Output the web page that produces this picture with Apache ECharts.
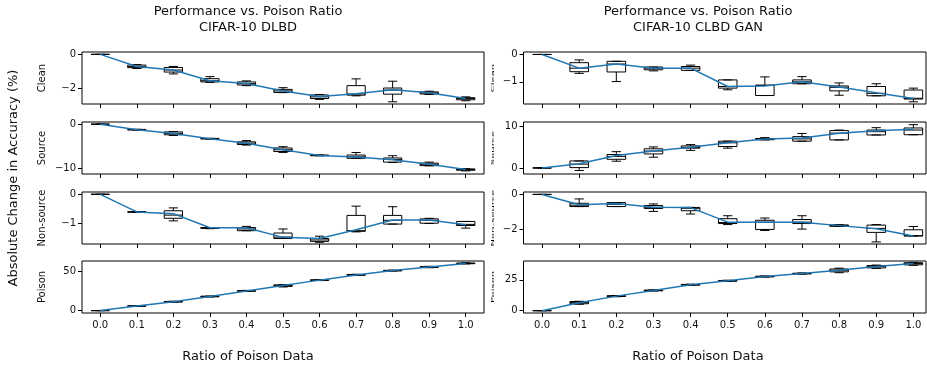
<!DOCTYPE html>
<html>
<head>
<meta charset="utf-8">
<script src="https://cdn.jsdelivr.net/npm/echarts@6/dist/echarts.min.js"></script>
<style>html,body{margin:0;padding:0;background:#fff}#c{width:927px;height:368px}</style>
</head>
<body>
<div id="c"></div>
<script>
// ---------- DATA ----------
const categories = ['0.0','0.1','0.2','0.3','0.4','0.5','0.6','0.7','0.8','0.9','1.0'];
const rowNames = ['Clean','Source','Non-source','Poison'];
const leftTitle = 'Performance vs. Poison Ratio\nCIFAR-10 DLBD';
const rightTitle = 'Performance vs. Poison Ratio\nCIFAR-10 CLBD GAN';
const xLabel = 'Ratio of Poison Data';
const yLabel = 'Absolute Change in Accuracy (%)';

// boxes: [whiskerLow, Q1, median, Q3, whiskerHigh]
const dlbdCleanBox = [[0,0,0,0,0],[-0.83,-0.78,-0.72,-0.63,-0.6],[-1.15,-1.04,-0.92,-0.77,-0.71],[-1.65,-1.62,-1.55,-1.43,-1.31],[-1.84,-1.8,-1.72,-1.62,-1.56],[-2.25,-2.24,-2.15,-2.06,-1.96],[-2.65,-2.6,-2.5,-2.39,-2.36],[-2.44,-2.4,-2.33,-1.84,-1.44],[-2.79,-2.34,-2.1,-1.98,-1.58],[-2.36,-2.33,-2.27,-2.21,-2.17],[-2.73,-2.67,-2.6,-2.55,-2.5]];
const dlbdCleanMean = [0,-0.71,-0.92,-1.55,-1.72,-2.15,-2.48,-2.31,-2.08,-2.26,-2.6];

const dlbdSourceBox = [[0,0,0,0,0],[-1.35,-1.3,-1.25,-1.18,-1.15],[-2.55,-2.4,-2.1,-1.75,-1.68],[-3.38,-3.34,-3.28,-3.22,-3.2],[-4.74,-4.6,-4.3,-4.0,-3.72],[-6.4,-6.2,-5.8,-5.4,-5.1],[-7.18,-7.15,-7.08,-7.0,-6.98],[-7.74,-7.74,-7.4,-7.0,-6.42],[-8.7,-8.6,-8.0,-7.66,-7.15],[-9.45,-9.4,-9.1,-8.83,-8.6],[-10.6,-10.45,-10.3,-10.15,-10.1]];
const dlbdSourceMean = [0,-1.25,-2.1,-3.28,-4.3,-5.8,-7.08,-7.45,-8.05,-9.1,-10.3];

const dlbdNonBox = [[0,0,0,0,0],[-0.63,-0.62,-0.61,-0.6,-0.6],[-0.92,-0.83,-0.72,-0.57,-0.47],[-1.19,-1.18,-1.16,-1.15,-1.15],[-1.26,-1.26,-1.2,-1.15,-1.11],[-1.53,-1.53,-1.48,-1.34,-1.2],[-1.66,-1.63,-1.58,-1.53,-1.45],[-1.3,-1.28,-1.26,-0.73,-0.41],[-1.03,-1.03,-0.9,-0.73,-0.43],[-1.01,-1.0,-0.9,-0.85,-0.83],[-1.17,-1.08,-1.04,-0.94,-0.94]];
const dlbdNonMean = [0,-0.61,-0.67,-1.16,-1.16,-1.49,-1.53,-1.23,-0.89,-0.89,-1.05];

const dlbdPoisonBox = [[0,0,0,0,0],[5.3,5.5,5.8,6.1,6.3],[10.6,10.8,11.2,11.6,11.8],[17.2,17.4,17.8,18.2,18.4],[24.1,24.4,24.8,25.2,25.5],[29.8,30.5,31.8,32.4,32.8],[37.8,38.0,38.4,38.8,39.0],[44.2,44.5,45.0,45.5,45.8],[49.8,50.0,50.4,50.8,51.0],[54.0,54.5,55.0,55.4,55.8],[58.8,59.1,59.5,59.9,60.2]];
const dlbdPoisonMean = [0,5.8,11.2,17.8,24.8,31.6,38.4,45.0,50.4,55.0,59.5];

const ganCleanBox = [[0,0,0,0,0],[-0.69,-0.63,-0.5,-0.3,-0.2],[-0.99,-0.64,-0.35,-0.25,-0.25],[-0.6,-0.56,-0.5,-0.46,-0.46],[-0.58,-0.58,-0.5,-0.44,-0.39],[-1.29,-1.23,-1.17,-0.93,-0.93],[-1.5,-1.5,-1.13,-1.12,-0.82],[-1.07,-1.07,-1.0,-0.93,-0.81],[-1.49,-1.33,-1.2,-1.15,-1.04],[-1.51,-1.51,-1.42,-1.17,-1.07],[-1.73,-1.63,-1.6,-1.3,-1.23]];
const ganCleanMean = [0,-0.5,-0.35,-0.5,-0.5,-1.17,-1.15,-1.0,-1.19,-1.4,-1.61];

const ganSourceBox = [[0,0,0,0,0],[-0.62,0.08,0.93,1.7,1.7],[1.63,2.1,2.8,3.26,3.95],[2.6,3.4,4.1,4.65,5.1],[4.26,4.8,5.0,5.35,5.66],[4.8,5.2,6.1,6.5,6.5],[6.8,6.85,7.0,7.15,7.36],[6.5,6.5,7.05,7.6,8.37],[6.8,6.8,8.45,9.07,9.2],[8.0,8.0,8.8,9.2,9.77],[8.06,8.06,9.2,9.7,10.5]];
const ganSourceMean = [0,1.0,3.0,4.1,5.0,6.1,7.05,7.25,8.4,9.0,9.4];

const ganNonBox = [[0,0,0,0,0],[-0.7,-0.7,-0.62,-0.51,-0.26],[-0.7,-0.7,-0.57,-0.47,-0.47],[-0.98,-0.81,-0.74,-0.64,-0.55],[-1.13,-0.94,-0.8,-0.75,-0.75],[-1.74,-1.68,-1.62,-1.4,-1.23],[-2.08,-2.02,-1.6,-1.49,-1.36],[-2.0,-1.68,-1.6,-1.45,-1.23],[-1.85,-1.84,-1.8,-1.76,-1.75],[-2.74,-2.19,-1.96,-1.77,-1.74],[-2.4,-2.4,-2.38,-2.04,-1.85]];
const ganNonMean = [0,-0.6,-0.53,-0.74,-0.76,-1.6,-1.6,-1.6,-1.8,-1.98,-2.4];

const ganPoisonBox = [[0,0,0,0,0],[5.2,5.6,6.5,7.4,7.6],[11.3,11.5,11.8,12.1,12.3],[15.9,16.1,16.4,16.7,16.9],[20.5,20.7,21.0,21.3,21.5],[23.7,23.9,24.2,24.5,24.7],[27.2,27.4,27.7,28.0,28.2],[29.6,29.8,30.1,30.4,30.6],[30.8,31.5,32.8,33.8,34.5],[34.3,34.7,35.8,36.6,37.0],[36.8,37.2,38.2,38.9,39.2]];
const ganPoisonMean = [0,6.5,11.8,16.4,21.0,24.2,27.7,30.1,32.8,35.8,38.2];

// y tick values per panel
const dlbdCleanTicks = [0,-2];
const dlbdSourceTicks = [0,-10];
const dlbdNonTicks = [0,-1];
const dlbdPoisonTicks = [0,50];
const ganCleanTicks = [0,-1];
const ganSourceTicks = [0,10];
const ganNonTicks = [0,-2];
const ganPoisonTicks = [0,25];

// y ranges per panel [min, max]
const dlbdRanges = [[-2.92,0.14],[-11.3,0.5],[-1.72,0.08],[-3,62.5]];
const ganRanges = [[-1.81,0.09],[-1.47,11.15],[-2.86,0.14],[-1.9,40.3]];
// x ranges (category index units) per column
const xRanges = [[-0.5,10.5],[-0.5,10.34]];

// ---------- LAYOUT ----------
const FONT = 'DejaVu Sans';
const TXT = '#111';
const colLeft = [82, 523.5];
const colWidth = [402, 402.5];
const rowTop = [52, 122, 192, 261];
const rowH = 52;
const xTickIdx = categories.map((_, k) => k);

const panels = [
  {col:0,row:0,box:dlbdCleanBox,mean:dlbdCleanMean,ticks:dlbdCleanTicks,range:dlbdRanges[0]},
  {col:0,row:1,box:dlbdSourceBox,mean:dlbdSourceMean,ticks:dlbdSourceTicks,range:dlbdRanges[1]},
  {col:0,row:2,box:dlbdNonBox,mean:dlbdNonMean,ticks:dlbdNonTicks,range:dlbdRanges[2]},
  {col:0,row:3,box:dlbdPoisonBox,mean:dlbdPoisonMean,ticks:dlbdPoisonTicks,range:dlbdRanges[3]},
  {col:1,row:0,box:ganCleanBox,mean:ganCleanMean,ticks:ganCleanTicks,range:ganRanges[0]},
  {col:1,row:1,box:ganSourceBox,mean:ganSourceMean,ticks:ganSourceTicks,range:ganRanges[1]},
  {col:1,row:2,box:ganNonBox,mean:ganNonMean,ticks:ganNonTicks,range:ganRanges[2]},
  {col:1,row:3,box:ganPoisonBox,mean:ganPoisonMean,ticks:ganPoisonTicks,range:ganRanges[3]}
];

function renderBox(params, api) {
  const xi = api.value(0);
  const lo = api.coord([xi, api.value(1)]);
  const q1 = api.coord([xi, api.value(2)]);
  const md = api.coord([xi, api.value(3)]);
  const q3 = api.coord([xi, api.value(4)]);
  const hi = api.coord([xi, api.value(5)]);
  const bw = api.size([0.5, 0])[0];
  const cw = bw * 0.5;
  const x = lo[0];
  const st = {stroke:'#000', lineWidth:1, fill:null};
  return {type:'group', children:[
    {type:'rect', shape:{x:x-bw/2, y:q3[1], width:bw, height:Math.max(q1[1]-q3[1],0.01)}, style:{stroke:'#000', lineWidth:1, fill:'rgba(0,0,0,0)'}},
    {type:'line', shape:{x1:x, y1:q1[1], x2:x, y2:lo[1]}, style:st},
    {type:'line', shape:{x1:x, y1:q3[1], x2:x, y2:hi[1]}, style:st},
    {type:'line', shape:{x1:x-cw/2, y1:lo[1], x2:x+cw/2, y2:lo[1]}, style:st},
    {type:'line', shape:{x1:x-cw/2, y1:hi[1], x2:x+cw/2, y2:hi[1]}, style:st},
    {type:'line', shape:{x1:x-bw/2, y1:md[1], x2:x+bw/2, y2:md[1]}, style:st}
  ]};
}

const grid = [], xAxis = [], yAxis = [], series = [];
panels.forEach((p, i) => {
  grid.push({left:colLeft[p.col], top:rowTop[p.row], width:colWidth[p.col], height:rowH,
    show:true, borderColor:'#000', borderWidth:1, backgroundColor:'transparent'});
  xAxis.push({type:'value', gridIndex:i, position:'bottom', min:xRanges[p.col][0], max:xRanges[p.col][1],
    axisLine:{show:false, onZero:false}, splitLine:{show:false},
    axisTick:{show:true, length:4, customValues:xTickIdx, lineStyle:{color:'#000'}},
    axisLabel:{show:p.row===3, customValues:xTickIdx, margin:7, color:TXT, fontSize:10, fontFamily:FONT,
      formatter: v => categories[Math.round(v)]}});
  yAxis.push({type:'value', gridIndex:i, position:'left', min:p.range[0], max:p.range[1],
    axisLine:{show:false, onZero:false}, splitLine:{show:false},
    axisTick:{show:true, length:4, customValues:p.ticks, lineStyle:{color:'#000'}},
    axisLabel:{customValues:p.ticks, margin:6, color:TXT, fontSize:10, fontFamily:FONT,
      formatter: v => String(v).replace('-', '\u2212')}});
  series.push({type:'custom', xAxisIndex:i, yAxisIndex:i, renderItem:renderBox, z:2,
    encode:{x:0, y:[1,2,3,4,5]},
    data:p.box.map((b, k) => [k, b[0], b[1], b[2], b[3], b[4]])});
  series.push({type:'line', xAxisIndex:i, yAxisIndex:i, data:p.mean.map((v, k) => [k, v]), z:3,
    symbol:'none', lineStyle:{color:'#1f77b4', width:1.5}, animation:false});
});

const graphic = [];
const colTitleX = [248, 698];
[leftTitle, rightTitle].forEach((t, c) => {
  graphic.push({type:'text', x:colTitleX[c], y:4, style:{text:t, font:'13px "DejaVu Sans"', fill:TXT, textAlign:'center', textVerticalAlign:'top', lineHeight:16}});
  graphic.push({type:'text', x:colTitleX[c], y:357, style:{text:xLabel, font:'13px "DejaVu Sans"', fill:TXT, textAlign:'center', textVerticalAlign:'middle'}});
});
graphic.push({type:'text', x:14, y:178, rotation:Math.PI/2, style:{text:yLabel, font:'13px "DejaVu Sans"', fill:TXT, textAlign:'center', textVerticalAlign:'middle'}});
rowNames.forEach((n, r) => {
  const cy = rowTop[r] + rowH/2;
  graphic.push({type:'text', x:42, y:cy, rotation:Math.PI/2, style:{text:n, font:'10px "DejaVu Sans"', fill:TXT, textAlign:'center', textVerticalAlign:'middle'}});
  graphic.push({type:'text', x:493, y:cy, rotation:Math.PI/2, scaleY:0.3, style:{text:n, font:'10px "DejaVu Sans"', fill:'#000', textAlign:'center', textVerticalAlign:'middle'}});
});

const chart = echarts.init(document.getElementById('c'), null, {renderer:'canvas'});
chart.setOption({animation:false, backgroundColor:'#fff', textStyle:{fontFamily:FONT},
  grid, xAxis, yAxis, series, graphic});
</script>
</body>
</html>
